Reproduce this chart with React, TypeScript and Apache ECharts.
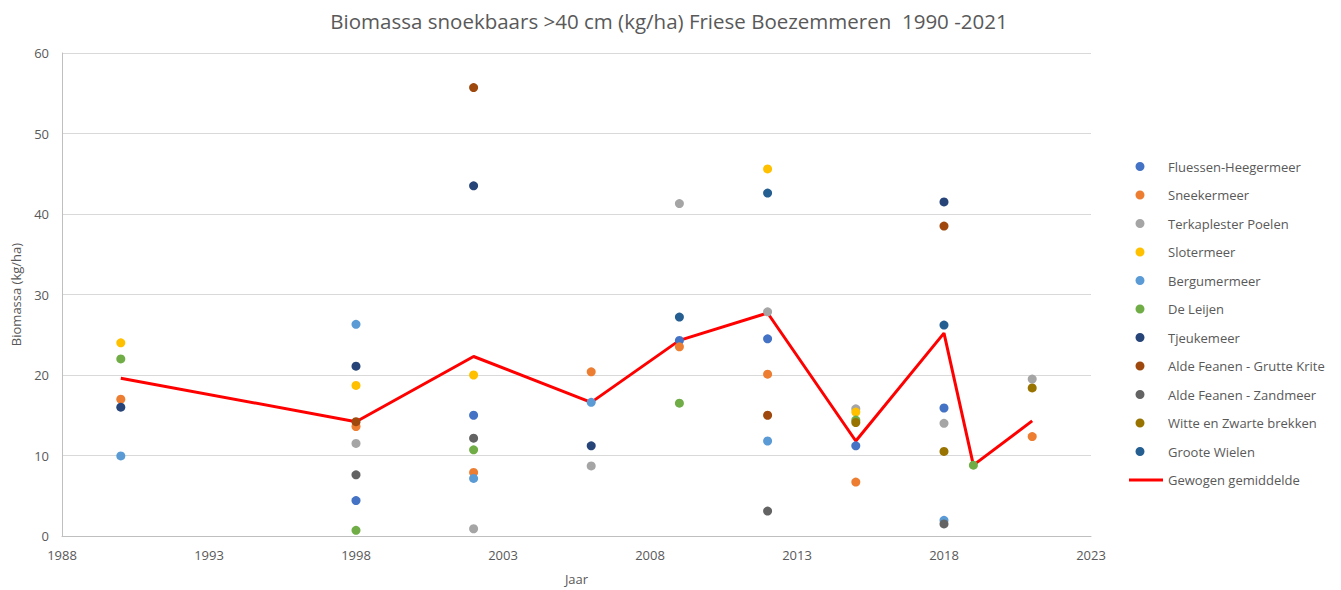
import React, { useEffect, useRef } from "react";
import * as echarts from "echarts";

const years = [1990, 1998, 2002, 2006, 2009, 2012, 2015, 2018, 2019, 2021];

// values per lake, aligned with `years` (null = not sampled)
const fluessen = [null, 4.4, 15.0, null, 24.3, 24.5, 11.2, 15.9, null, null];
const sneekermeer = [17.0, 13.6, 7.9, 20.4, 23.5, 20.1, 6.7, null, null, 12.35];
const terkaplester = [null, 11.5, 0.9, 8.7, 41.3, 27.85, 15.8, 14.0, null, 19.5];
const slotermeer = [24.0, 18.7, 20.0, null, null, 45.6, 15.4, null, null, null];
const bergumermeer = [9.95, 26.3, 7.15, 16.6, null, 11.8, null, 1.95, null, null];
const deLeijen = [22.0, 0.7, 10.7, null, 16.5, null, 14.4, null, 8.8, null];
const tjeukemeer = [16.0, 21.1, 43.5, 11.2, null, null, null, 41.5, null, null];
const aldeGrutte = [null, 14.2, 55.7, null, null, 15.0, null, 38.5, null, null];
const aldeZandmeer = [null, 7.6, 12.15, null, null, 3.1, null, 1.5, null, null];
const witteZwarte = [null, null, null, null, null, null, 14.1, 10.5, null, 18.4];
const grooteWielen = [null, null, null, null, 27.2, 42.6, null, 26.2, null, null];
const gewogen = [19.6, 14.2, 22.3, 16.6, 24.3, 27.7, 11.8, 25.2, 8.8, 14.3];

const lakeNames = [
  "Fluessen-Heegermeer",
  "Sneekermeer",
  "Terkaplester Poelen",
  "Slotermeer",
  "Bergumermeer",
  "De Leijen",
  "Tjeukemeer",
  "Alde Feanen - Grutte Krite",
  "Alde Feanen - Zandmeer",
  "Witte en Zwarte brekken",
  "Groote Wielen",
];
const lakeValues = [
  fluessen,
  sneekermeer,
  terkaplester,
  slotermeer,
  bergumermeer,
  deLeijen,
  tjeukemeer,
  aldeGrutte,
  aldeZandmeer,
  witteZwarte,
  grooteWielen,
];
const lakeColors = [
  "#4472C4",
  "#ED7D31",
  "#A5A5A5",
  "#FFC000",
  "#5B9BD5",
  "#70AD47",
  "#264478",
  "#9E480E",
  "#636363",
  "#997300",
  "#255E91",
];
const avgName = "Gewogen gemiddelde";

const FONT = "'Open Sans', Lato, sans-serif";
const TXT = "#595959";

const DOT_ICON =
  "path://M6.5,5a4.5,4.5 0 1,0 9,0a4.5,4.5 0 1,0 -9,0ZM0,0L0.01,0L0,0.01ZM34,10L33.99,10L34,9.99Z";
const LINE_ICON = "path://M0,0L34,0L34,3L0,3Z";

export default function App() {
  const ref = useRef<HTMLDivElement>(null);
  useEffect(() => {
    if (!ref.current) return;
    const chart = echarts.init(ref.current, null, { renderer: "svg" });
    const scatterSeries = lakeNames.map((name, i) => ({
      name,
      type: "scatter",
      z: 3,
      symbol: "circle",
      symbolSize: 9,
      itemStyle: { color: lakeColors[i], opacity: 1 },
      data: years
        .map((y, j) => [y, lakeValues[i][j]])
        .filter((p) => p[1] !== null),
    }));
    chart.setOption({
      animation: false,
      textStyle: { fontFamily: FONT },
      title: {
        text: "Biomassa snoekbaars >40 cm (kg/ha) Friese Boezemmeren  1990 -2021",
        left: 664,
        textAlign: "center",
        top: 5,
        textStyle: { fontFamily: FONT, fontSize: 20.5, fontWeight: "normal", color: TXT },
      },
      grid: { left: 62, right: 250, top: 53, bottom: 43, containLabel: false },
      xAxis: {
        type: "value",
        min: 1988,
        max: 2023,
        interval: 5,
        name: "Jaar",
        nameLocation: "middle",
        nameGap: 36,
        nameTextStyle: { fontFamily: FONT, fontSize: 13, color: TXT },
        axisLine: { show: true, lineStyle: { color: "#BFBFBF", width: 1 } },
        axisTick: { show: false },
        splitLine: { show: false },
        axisLabel: {
          fontFamily: FONT,
          fontSize: 13,
          color: TXT,
          margin: 12,
          formatter: (v: number) => String(v),
        },
      },
      yAxis: {
        type: "value",
        min: 0,
        max: 60,
        interval: 10,
        name: "Biomassa (kg/ha)",
        nameLocation: "middle",
        nameGap: 40,
        nameTextStyle: { fontFamily: FONT, fontSize: 13, color: TXT },
        axisLine: { show: true, lineStyle: { color: "#BFBFBF", width: 1 } },
        axisTick: { show: false },
        splitLine: { show: true, lineStyle: { color: "#D9D9D9", width: 1 } },
        axisLabel: { fontFamily: FONT, fontSize: 13, color: TXT, margin: 13 },
      },
      legend: {
        orient: "vertical",
        left: 1124,
        top: 155,
        itemWidth: 34,
        itemHeight: 10,
        itemGap: 15.5,
        textStyle: { fontFamily: FONT, fontSize: 13, color: TXT, lineHeight: 12 },
        data: [
          ...lakeNames.map((n) => ({ name: n, icon: DOT_ICON })),
          { name: avgName, icon: LINE_ICON },
        ],
      },
      series: [
        ...scatterSeries,
        {
          name: avgName,
          type: "line",
          z: 2,
          symbol: "none",
          lineStyle: { color: "#FF0000", width: 3 },
          itemStyle: { color: "#FF0000" },
          data: years.map((y, j) => [y, gewogen[j]]),
        },
      ],
    });
    return () => chart.dispose();
  }, []);
  return (
    <div
      ref={ref}
      style={{ position: "absolute", left: 0, top: 0, width: 1341, height: 590, background: "#fff" }}
    />
  );
}
